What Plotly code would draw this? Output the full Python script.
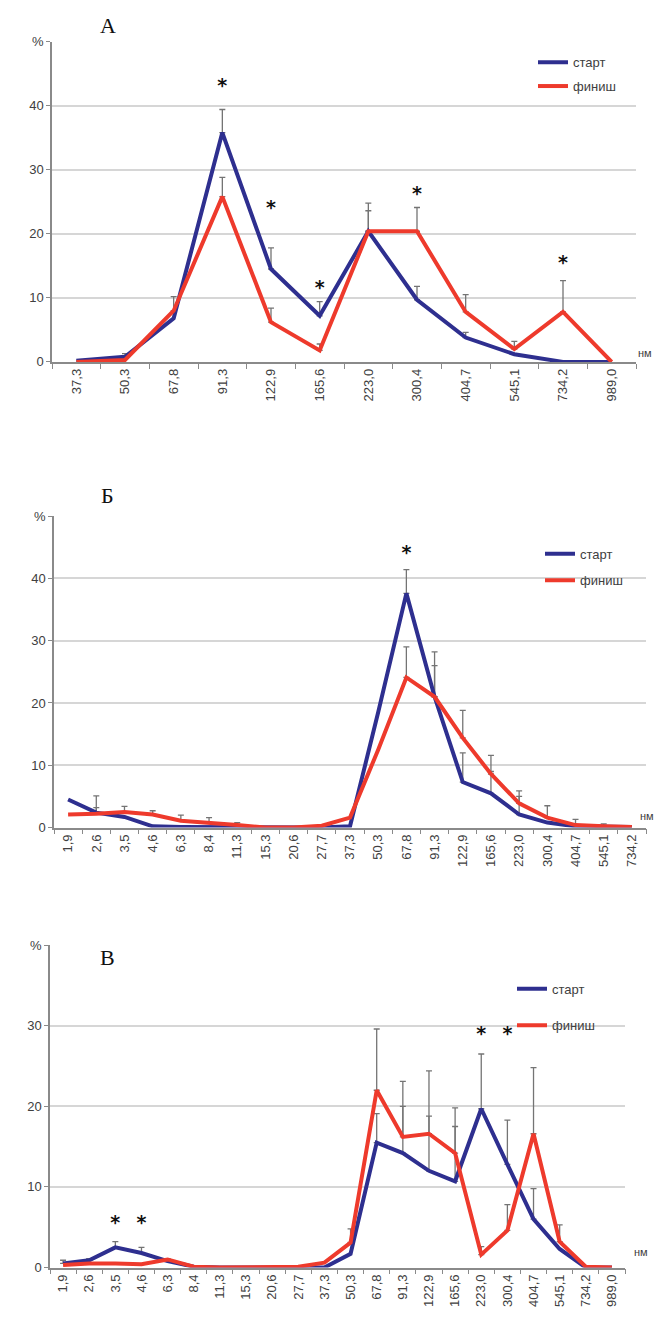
import plotly.graph_objects as go

# ---------------- data ----------------
cats_a = ["37,3", "50,3", "67,8", "91,3", "122,9", "165,6", "223,0", "300,4",
          "404,7", "545,1", "734,2", "989,0"]
start_a = [0.2, 0.8, 6.8, 35.8, 14.5, 7.2, 20.4, 9.7, 3.8, 1.2, 0.0, 0.0]
finish_a = [0.0, 0.3, 8.0, 25.8, 6.2, 1.8, 20.4, 20.4, 7.8, 2.0, 7.8, 0.0]
start_a_err = [None, 0.5, None, 3.6, 3.3, 2.2, 4.4, 2.1, 0.8, None, None, None]
finish_a_err = [None, None, 2.2, 3.0, 2.2, 1.0, 3.2, 3.7, 2.7, 1.2, 4.9, None]
star_a_x = ["91,3", "122,9", "165,6", "300,4", "734,2"]
star_a_y = [42.8, 23.9, 11.3, 26.0, 15.2]

cats_b = ["1,9", "2,6", "3,5", "4,6", "6,3", "8,4", "11,3", "15,3", "20,6", "27,7",
          "37,3", "50,3", "67,8", "91,3", "122,9", "165,6", "223,0", "300,4",
          "404,7", "545,1", "734,2"]
start_b = [4.5, 2.4, 1.7, 0.2, 0.1, 0.1, 0.1, 0.0, 0.0, 0.0,
           0.2, 18.5, 37.6, 21.0, 7.3, 5.5, 2.1, 0.8, 0.2, 0.1, 0.1]
finish_b = [2.1, 2.2, 2.5, 2.1, 1.1, 0.8, 0.4, 0.0, 0.0, 0.3,
            1.6, 12.5, 24.1, 21.0, 14.4, 8.6, 3.9, 1.6, 0.4, 0.2, 0.1]
start_b_err = [None, 0.8, None, None, None, None, None, None, None, None,
               None, None, 3.8, 5.0, 4.7, 3.5, 2.9, None, None, None, None]
finish_b_err = [None, 2.9, 0.9, 0.6, 0.9, 0.8, 0.4, None, None, None,
                None, None, 4.9, 7.2, 4.4, 3.0, 2.0, 1.9, 0.9, 0.4, None]
star_b_x = ["67,8"]
star_b_y = [43.9]

cats_c = ["1,9", "2,6", "3,5", "4,6", "6,3", "8,4", "11,3", "15,3", "20,6", "27,7",
          "37,3", "50,3", "67,8", "91,3", "122,9", "165,6", "223,0", "300,4",
          "404,7", "545,1", "734,2", "989,0"]
start_c = [0.5, 0.9, 2.5, 1.8, 0.8, 0.1, 0.0, 0.0, 0.0, 0.0,
           0.0, 1.7, 15.5, 14.2, 12.0, 10.7, 19.7, 12.8, 6.0, 2.3, 0.0, 0.0]
finish_c = [0.3, 0.5, 0.5, 0.4, 1.0, 0.1, 0.0, 0.0, 0.0, 0.1,
            0.6, 3.1, 22.0, 16.2, 16.6, 14.2, 1.6, 4.6, 16.6, 3.2, 0.1, 0.0]
start_c_err = [0.4, 0.2, 0.7, 0.7, 0.3, None, None, None, None, None,
               None, None, 3.6, 5.8, 6.8, 6.8, 6.8, 5.5, 3.8, None, None, None]
finish_c_err = [None, None, None, None, None, None, None, None, None, None,
                None, 1.7, 7.6, 6.9, 7.8, 5.6, 1.0, 3.2, 8.2, 2.1, None, None]
star_c_x = ["3,5", "4,6", "223,0", "300,4"]
star_c_y = [5.4, 5.4, 28.8, 28.8]

yticks_a = [0, 10, 20, 30, 40, 50]
yticks_c = [0, 10, 20, 30, 40]

# ---------------- styling ----------------
W, H = 661, 1319
BLUE = "#2e2f8f"
RED = "#ee3a2c"
AXIS = "#8a8a8a"
GRID = "#d6d6d6"
TXT = "#404040"
FONT = "Liberation Sans"


def px_x(v):
    return v / W


def px_y(v):
    return 1 - v / H


panels = [
    dict(cats=cats_a, s=start_a, f=finish_a, se=start_a_err, fe=finish_a_err,
         sx=star_a_x, sy=star_a_y, yt=yticks_a, xr=(52, 636), yr=(35, 359),
         lab="А", labpos=(108, 19), nm=(645, 350), leg=(533, 56, 80)),
    dict(cats=cats_b, s=start_b, f=finish_b, se=start_b_err, fe=finish_b_err,
         sx=star_b_x, sy=star_b_y, yt=yticks_a, xr=(54, 646), yr=(515, 830),
         lab="Б", labpos=(108, 494), nm=(647, 818), leg=(540, 553, 580)),
    dict(cats=cats_c, s=start_c, f=finish_c, se=start_c_err, fe=finish_c_err,
         sx=star_c_x, sy=star_c_y, yt=yticks_c, xr=(50, 625), yr=(949, 1275),
         lab="В", labpos=(108, 961), nm=(641, 1259), leg=(512, 993, 1030)),
]

fig = go.Figure()
annotations = []
layout_axes = {}
legends = {}
leg_idx = 1

for i, p in enumerate(panels, start=1):
    xa = "x" if i == 1 else f"x{i}"
    ya = "y" if i == 1 else f"y{i}"
    cats = p["cats"]

    # error bars (upper only), drawn as invisible-marker traces
    for vals, errs in ((p["f"], p["fe"]), (p["s"], p["se"])):
        ex = [c for c, e in zip(cats, errs) if e is not None]
        ey = [v for v, e in zip(vals, errs) if e is not None]
        ee = [e for e in errs if e is not None]
        fig.add_trace(go.Scatter(
            x=ex, y=ey, mode="markers", marker=dict(size=1, opacity=0),
            error_y=dict(type="data", array=ee, arrayminus=[0] * len(ee),
                         symmetric=False, color="#747474", thickness=1.3, width=3),
            xaxis=xa, yaxis=ya, showlegend=False, hoverinfo="skip"))

    lg1 = "legend" if leg_idx == 1 else f"legend{leg_idx}"
    lg2 = f"legend{leg_idx + 1}"
    fig.add_trace(go.Scatter(x=cats, y=p["s"], mode="lines", name="старт",
                             line=dict(color=BLUE, width=4),
                             xaxis=xa, yaxis=ya, legend=lg1))
    fig.add_trace(go.Scatter(x=cats, y=p["f"], mode="lines", name="финиш",
                             line=dict(color=RED, width=4),
                             xaxis=xa, yaxis=ya, legend=lg2))
    fig.add_trace(go.Scatter(x=p["sx"], y=p["sy"], mode="text", text=["*"] * len(p["sx"]),
                             textfont=dict(family="DejaVu Sans", size=19, color="#111",
                                           weight="bold"),
                             textposition="middle center",
                             xaxis=xa, yaxis=ya, showlegend=False, hoverinfo="skip"))

    lx, ly1, ly2 = p["leg"]
    for k, yy in ((lg1, ly1), (lg2, ly2)):
        legends[k] = dict(x=px_x(lx), y=px_y(yy), xanchor="left", yanchor="middle",
                          bgcolor="rgba(0,0,0,0)", borderwidth=0,
                          font=dict(family=FONT, size=13, color=TXT),
                          itemwidth=30, tracegroupgap=0)
    leg_idx += 2

    n = len(cats)
    ymax = p["yt"][-1]
    layout_axes["xaxis" if i == 1 else f"xaxis{i}"] = dict(
        domain=[px_x(p["xr"][0]), px_x(p["xr"][1])], anchor=ya,
        type="category", categoryorder="array", categoryarray=cats,
        range=[-0.5, n - 0.5], showline=True, linecolor=AXIS, linewidth=1.5,
        ticks="outside", tickson="boundaries", ticklen=5, tickcolor=AXIS,
        tickwidth=1.2, tickangle=-90, showgrid=False, zeroline=False,
        tickfont=dict(family=FONT, size=13, color=TXT))
    layout_axes["yaxis" if i == 1 else f"yaxis{i}"] = dict(
        domain=[px_y(p["yr"][1]), px_y(p["yr"][0])], anchor=xa,
        range=[0, ymax], tickvals=p["yt"],
        ticktext=[str(v) for v in p["yt"][:-1]] + ["%"],
        showgrid=True, gridcolor=GRID, gridwidth=1.5, showline=True,
        linecolor=AXIS, linewidth=1.5, ticks="outside", ticklen=4,
        tickcolor=AXIS, zeroline=False,
        tickfont=dict(family=FONT, size=13, color=TXT))

    annotations.append(dict(text=p["lab"], x=px_x(p["labpos"][0]), y=px_y(p["labpos"][1]),
                            xref="paper", yref="paper", showarrow=False,
                            xanchor="center", yanchor="middle",
                            font=dict(family="Liberation Serif", size=22, color="#111")))
    annotations.append(dict(text="нм", x=px_x(p["nm"][0]), y=px_y(p["nm"][1]),
                            xref="paper", yref="paper", showarrow=False,
                            xanchor="center", yanchor="middle",
                            font=dict(family=FONT, size=11, color=TXT)))

fig.update_layout(
    width=W, height=H, margin=dict(l=0, r=0, t=0, b=0),
    paper_bgcolor="white", plot_bgcolor="white",
    annotations=annotations, **layout_axes, **legends)

fig.write_html("out.html", config={"displayModeBar": False},
               post_script="document.body.style.margin='0';document.body.style.padding='0';")
